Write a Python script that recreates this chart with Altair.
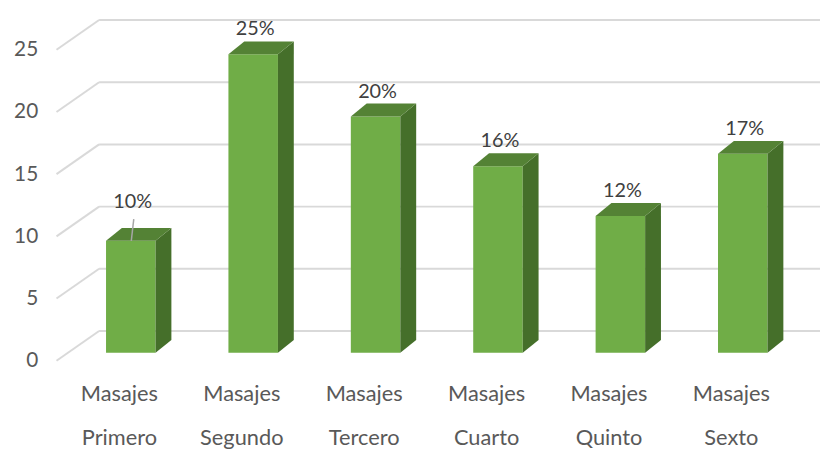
import json
import altair as alt
import pandas as pd

# ---- data ----
categories = ["Primero", "Segundo", "Tercero", "Cuarto", "Quinto", "Sexto"]
values = [9, 24, 19, 15, 11, 16]
pct_labels = ["10%", "25%", "20%", "16%", "12%", "17%"]
y_ticks = [0, 5, 10, 15, 20, 25]
label_prefix = "Masajes"

# ---- layout / style constants (pixels) ----
W, H = 778, 360
PX_X = 123.6           # px per category step
PX_Y = 12.56           # px per value unit
X0_PX = 70             # category 0 centre from plot-left
Y0_PX = 8              # value 0 above plot-bottom
xmin = -X0_PX / PX_X
xmax = xmin + W / PX_X
ymin = -Y0_PX / PX_Y
ymax = ymin + H / PX_Y

def ux(px):
    return px / PX_X

def uy(px):
    return px / PX_Y

WALL_DX, WALL_DY = 43, 30      # depth of the back wall
WALL_X_FRONT = -63             # front end of diagonals relative to cat 0 centre
BAR_SHIFT_X, BAR_SHIFT_Y = 12, 8
BAR_HALF = 25
BAR_DX, BAR_DY = 16, 13
LABEL_DX = 14
LABEL_GAP = 12
LIFT = {"Primero": 14}

FONT = "Lato"
TXT = "#595959"
GRID = "#D9D9D9"
FRONT = "#70AD47"
TOP = "#548235"
SIDE = "#456F2A"

# ---- derived tables ----
back_x0 = ux(WALL_X_FRONT + WALL_DX)
grid = pd.DataFrame({
    "x": [back_x0] * len(y_ticks),
    "x2": [xmax] * len(y_ticks),
    "y": [t + uy(WALL_DY) for t in y_ticks],
})
diag = pd.DataFrame({
    "x": [ux(WALL_X_FRONT)] * len(y_ticks),
    "x2": [back_x0] * len(y_ticks),
    "y": y_ticks,
    "y2": [t + uy(WALL_DY) for t in y_ticks],
})

base = uy(BAR_SHIFT_Y)
front_rows, side_rows, top_rows, lab_rows, lead_rows = [], [], [], [], []
for i, (c, v, p) in enumerate(zip(categories, values, pct_labels)):
    L = i + ux(BAR_SHIFT_X - BAR_HALF)
    R = i + ux(BAR_SHIFT_X + BAR_HALF)
    ddx, ddy = ux(BAR_DX), uy(BAR_DY)
    top = v + base
    front_rows.append({"cat": c, "x": L, "x2": R, "y": base, "y2": top})
    side_rows += [
        {"cat": c, "x": R, "y": base, "y2": top},
        {"cat": c, "x": R + ddx, "y": base + ddy, "y2": top + ddy},
    ]
    top_rows += [
        {"cat": c, "x": L, "y": top, "y2": top},
        {"cat": c, "x": L + ddx, "y": top, "y2": top + ddy},
        {"cat": c, "x": R, "y": top, "y2": top + ddy},
        {"cat": c, "x": R + ddx, "y": top + ddy, "y2": top + ddy},
    ]
    lift = LIFT.get(c, 0)
    ly = top + ddy + uy(LABEL_GAP) + uy(lift)
    lab_rows.append({"cat": c, "x": i + ux(LABEL_DX), "y": ly, "t": p})
    if lift:
        lead_rows.append({"x": i + ux(LABEL_DX + 1), "y": ly - uy(17),
                          "x2": i + ux(LABEL_DX - 1.5), "y2": top})

front_df = pd.DataFrame(front_rows)
side_df = pd.DataFrame(side_rows)
top_df = pd.DataFrame(top_rows)
lab_df = pd.DataFrame(lab_rows)
lead_df = pd.DataFrame(lead_rows)

names = [f"{label_prefix}\n{c}" for c in categories]
label_expr = "split(" + json.dumps(names) + "[round(datum.value)], '\\n')"

xs = alt.Scale(domain=[xmin, xmax], nice=False, zero=False)
ys = alt.Scale(domain=[ymin, ymax], nice=False, zero=False)

x_axis = alt.Axis(values=list(range(len(categories))), labelExpr=label_expr,
                  domain=False, ticks=False, grid=False, title=None,
                  labelFont=FONT, labelFontSize=22, labelColor=TXT,
                  labelPadding=15, labelLineHeight=45, labelBaseline="top")
y_axis = alt.Axis(values=y_ticks, domain=False, ticks=False, grid=False,
                  title=None, labelFont=FONT, labelFontSize=21,
                  labelColor=TXT, labelPadding=12)

grid_l = alt.Chart(grid).mark_rule(color=GRID, strokeWidth=2).encode(
    x=alt.X("x:Q", scale=xs, axis=x_axis), x2="x2", y=alt.Y("y:Q", scale=ys, axis=y_axis))
diag_l = alt.Chart(diag).mark_rule(color=GRID, strokeWidth=2).encode(
    x=alt.X("x:Q", scale=xs), x2="x2", y=alt.Y("y:Q", scale=ys), y2="y2")
front_l = alt.Chart(front_df).mark_rect(color=FRONT).encode(
    x=alt.X("x:Q", scale=xs), x2="x2", y=alt.Y("y:Q", scale=ys), y2="y2")
side_l = alt.Chart(side_df).mark_area(color=SIDE, orient="vertical").encode(
    x=alt.X("x:Q", scale=xs), y=alt.Y("y:Q", scale=ys), y2="y2", detail="cat:N")
top_l = alt.Chart(top_df).mark_area(color=TOP, orient="vertical").encode(
    x=alt.X("x:Q", scale=xs), y=alt.Y("y:Q", scale=ys), y2="y2", detail="cat:N")
lead_l = alt.Chart(lead_df).mark_rule(color="#A6A6A6", strokeWidth=1.5).encode(
    x=alt.X("x:Q", scale=xs), x2="x2", y=alt.Y("y:Q", scale=ys), y2="y2")
text_l = alt.Chart(lab_df).mark_text(font=FONT, fontSize=20, color="#404040",
                                     baseline="middle", align="center").encode(
    x=alt.X("x:Q", scale=xs), y=alt.Y("y:Q", scale=ys), text="t:N")

chart = alt.layer(grid_l, diag_l, front_l, side_l, top_l, lead_l, text_l).properties(
    width=W, height=H,
    autosize=alt.AutoSizeParams(type="none"),
    padding={"left": 42, "top": 2, "right": 0, "bottom": 80},
    background="white",
).configure_view(stroke=None)

chart.save("out.html", embed_options={"renderer": "svg", "actions": False})
